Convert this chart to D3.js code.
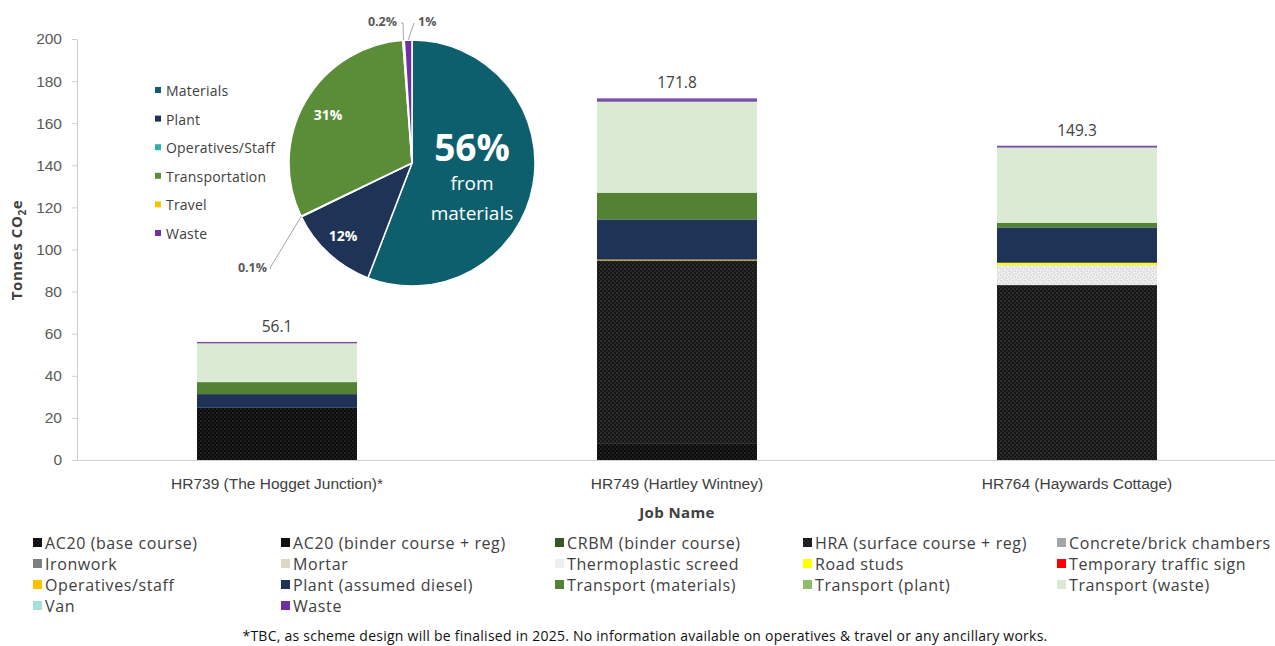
<!DOCTYPE html>
<html>
<head>
<meta charset="utf-8">
<script src="https://cdn.jsdelivr.net/npm/d3@7"></script>
<style>
  html, body { margin: 0; padding: 0; background: #fff; }
  svg { display: block; font-family: "Open Sans", "Noto Sans", sans-serif; }
</style>
</head>
<body>
<svg id="chart" width="1275" height="646"></svg>
<script>
// ---- Jobs (x categories) ----
const jobs = ["HR739 (The Hogget Junction)*", "HR749 (Hartley Wintney)", "HR764 (Haywards Cottage)"];

// ---- Emission sources, stacked bottom to top (tonnes CO2e per job) ----
const seriesNames = [
  "AC20 (base course)", "AC20 (binder course + reg)", "CRBM (binder course)",
  "HRA (surface course + reg)", "Concrete/brick chambers", "Ironwork", "Mortar",
  "Thermoplastic screed", "Road studs", "Temporary traffic sign", "Operatives/staff",
  "Plant (assumed diesel)", "Transport (materials)", "Transport (plant)",
  "Transport (waste)", "Van", "Waste"
];
const ac20Base        = [24.8,  8.0,  0];
const ac20Binder      = [0,     0,    0];
const crbmBinder      = [0,     0,    0];
const hraSurface      = [0,    86.8, 83.1];
const concreteBrick   = [0,     0,    0];
const ironwork        = [0,     0,    0];
const mortar          = [0,     0,    0];
const thermoScreed    = [0,     0,    9.5];
const roadStuds       = [0,     0,    1.1];
const tempSign        = [0,     0,    0];
const operatives      = [0,     0.4,  0];
const plantDiesel     = [6.5,  19.1, 16.8];
const transportMat    = [5.7,  12.7,  2.2];
const transportPlant  = [0,     0,    0];
const transportWaste  = [18.4, 43.2, 35.7];
const van             = [0,     0,    0];
const waste           = [0.7,   1.6,  0.9];

const seriesValues = [ac20Base, ac20Binder, crbmBinder, hraSurface, concreteBrick, ironwork,
  mortar, thermoScreed, roadStuds, tempSign, operatives, plantDiesel, transportMat,
  transportPlant, transportWaste, van, waste];

const yTicks = [0, 20, 40, 60, 80, 100, 120, 140, 160, 180, 200];

// ---- Overall split (pie) ----
const pieLabels = ["Materials", "Plant", "Operatives/Staff", "Transportation", "Travel", "Waste"];
const pieValues = [56, 12, 0.1, 31, 0.2, 1];

// ---- Fills ----
const seriesFill = [
  "url(#dotsA)", "url(#dotsB)", "#375623", "url(#dotsB)", "#a5a5a5", "#7f7f7f", "#ddd9c4",
  "url(#speckle)", "#ffff00", "#ff0000", "#ffc000", "#1f3356", "#548235", "#8fbd6d",
  "#dbead2", "#a7dfdb", "#7a4fa6"
];
const legendSwatch = [
  "url(#dotsA)", "#111111", "#375623", "url(#dotsB)", "#a5a5a5", "#7f7f7f", "#ddd9c4",
  "#eeeeee", "#ffff00", "#ff0000", "#ffc000", "#1f3356", "#548235", "#8fbd6d",
  "#dbead2", "#a7dfdb", "#7030a0"
];
const pieColors = ["#0d5f6e", "#1f3356", "#2bb3a3", "#5b8d38", "#ffc000", "#7030a0"];

const svg = d3.select("#chart");
const defs = svg.append("defs");

// fine dotted black fill used for asphalt layers
function dotPattern(id, base, dot, op) {
  const p = defs.append("pattern").attr("id", id).attr("patternUnits", "userSpaceOnUse")
    .attr("width", 4).attr("height", 4);
  p.append("rect").attr("width", 4).attr("height", 4).attr("fill", base);
  p.append("circle").attr("cx", 1).attr("cy", 1).attr("r", 0.6).attr("fill", dot).attr("opacity", op);
  p.append("circle").attr("cx", 3).attr("cy", 3).attr("r", 0.6).attr("fill", dot).attr("opacity", op * 0.7);
}
dotPattern("dotsA", "#0c0c0c", "#ffffff", 0.35);
dotPattern("dotsB", "#151515", "#ffffff", 0.45);
{
  const p = defs.append("pattern").attr("id", "speckle").attr("patternUnits", "userSpaceOnUse")
    .attr("width", 6).attr("height", 6);
  p.append("rect").attr("width", 6).attr("height", 6).attr("fill", "#efefef");
  [[1,1],[4,2],[2,4],[5,5]].forEach(([x, y]) =>
    p.append("circle").attr("cx", x).attr("cy", y).attr("r", 0.8).attr("fill", "#c8c8c8"));
}

// ---- Scales ----
const x = d3.scaleBand().domain(jobs).range([77, 1277]).paddingInner(0.6).paddingOuter(0.3);
const y = d3.scaleLinear().domain([0, 200]).range([460, 39]);

// ---- Axes ----
const yAxis = svg.append("g").attr("transform", "translate(77,0)")
  .call(d3.axisLeft(y).tickValues(yTicks).tickSize(5).tickPadding(10));
yAxis.select(".domain").attr("stroke", "#d0d0d0");
yAxis.selectAll(".tick line").attr("stroke", "#d0d0d0");
yAxis.selectAll(".tick text").attr("fill", "#595959").style("font-size", "15.5px");

const xAxis = svg.append("g").attr("transform", "translate(0,460)")
  .call(d3.axisBottom(x).tickSize(0).tickPadding(18));
xAxis.select(".domain").attr("stroke", "#d0d0d0");
xAxis.selectAll(".tick text").attr("fill", "#404040").style("font-size", "15.5px");

svg.append("text").attr("x", 677).attr("y", 518).attr("text-anchor", "middle")
  .attr("fill", "#404040").style("font-size", "15px").style("font-weight", "bold")
  .style("letter-spacing", "0.4px").text("Job Name");

const yTitle = svg.append("text").attr("transform", "translate(22,250) rotate(-90)")
  .attr("text-anchor", "middle").attr("fill", "#404040")
  .style("font-size", "15px").style("font-weight", "bold").style("letter-spacing", "0.6px");
yTitle.append("tspan").text("Tonnes CO");
yTitle.append("tspan").attr("dy", 4).style("font-size", "10px").text("2");
yTitle.append("tspan").attr("dy", -4).text("e");

// ---- Stacked bars ----
const table = jobs.map((job, j) => {
  const row = { job };
  seriesNames.forEach((s, i) => { row[s] = seriesValues[i][j]; });
  return row;
});
const stacked = d3.stack().keys(seriesNames)(table);

svg.append("g").selectAll("g").data(stacked).join("g")
  .attr("fill", (d, i) => seriesFill[i])
  .selectAll("rect").data(d => d.filter(p => p[1] - p[0] > 0)).join("rect")
  .attr("x", d => x(d.data.job))
  .attr("width", x.bandwidth())
  .attr("y", d => y(d[1]))
  .attr("height", d => y(d[0]) - y(d[1]));

// total labels
svg.append("g").selectAll("text").data(table).join("text")
  .attr("x", d => x(d.job) + x.bandwidth() / 2)
  .attr("y", d => y(d3.sum(seriesNames, s => d[s])) - 10)
  .attr("text-anchor", "middle").attr("fill", "#404040").style("font-size", "15.5px")
  .text(d => d3.sum(seriesNames, s => d[s]).toFixed(1));

// ---- Bottom legend ----
const legCols = [33, 281, 555, 803, 1057];
const legRows = [544, 565, 586, 607];
const leg = svg.append("g").selectAll("g").data(seriesNames).join("g")
  .attr("transform", (d, i) => `translate(${legCols[i % 5]},${legRows[Math.floor(i / 5)]})`);
leg.append("rect").attr("x", 0).attr("y", -6).attr("width", 9).attr("height", 9)
  .attr("fill", (d, i) => legendSwatch[i]);
leg.append("text").attr("x", 12).attr("y", 5).attr("fill", "#404040")
  .style("font-size", "16px").style("letter-spacing", "0.6px").text(d => d);

svg.append("text").attr("x", 645).attr("y", 641).attr("text-anchor", "middle")
  .attr("fill", "#111").style("font-size", "14px").style("letter-spacing", "0.25px")
  .text("*TBC, as scheme design will be finalised in 2025. No information available on operatives & travel or any ancillary works.");

// ---- Pie inset ----
const cx = 412, cy = 163, r = 123;
const pie = d3.pie().sort(null).value(d => d)(pieValues);
const arc = d3.arc().innerRadius(0).outerRadius(r);
const pg = svg.append("g").attr("transform", `translate(${cx},${cy})`);
pg.selectAll("path").data(pie).join("path")
  .attr("d", arc).attr("fill", (d, i) => pieColors[i])
  .attr("stroke", "#fff").attr("stroke-width", 1.5);

// in-slice labels
pg.append("text").attr("x", 60).attr("y", -2).attr("text-anchor", "middle").attr("fill", "#fff")
  .style("font-size", "37px").style("font-weight", "bold").text("56%");
pg.append("text").attr("x", 60).attr("y", 27).attr("text-anchor", "middle").attr("fill", "#fff")
  .style("font-size", "19px").text("from");
pg.append("text").attr("x", 60).attr("y", 57).attr("text-anchor", "middle").attr("fill", "#fff")
  .style("font-size", "19px").text("materials");
pg.append("text").attr("x", -84).attr("y", -43).attr("text-anchor", "middle").attr("fill", "#fff")
  .style("font-size", "14px").style("font-weight", "bold").text(Math.round(pieValues[3]) + "%");
pg.append("text").attr("x", -69).attr("y", 78).attr("text-anchor", "middle").attr("fill", "#fff")
  .style("font-size", "14px").style("font-weight", "bold").text(Math.round(pieValues[1]) + "%");

// outside labels with leader lines for the thin slices
function edgePoint(d) {
  const a = (d.startAngle + d.endAngle) / 2;
  return [r * Math.sin(a), -r * Math.cos(a)];
}
const outside = [
  { i: 2, lx: -142, ly: 105, tx: -145, ty: 109, anchor: "end" },
  { i: 4, lx: -9, ly: -140, tx: -15, ty: -137, anchor: "end" },
  { i: 5, lx: 2, ly: -140, tx: 6, ty: -137, anchor: "start" }
];
outside.forEach(o => {
  const [ex, ey] = edgePoint(pie[o.i]);
  pg.append("polyline")
    .attr("points", [[o.tx + (o.anchor === "end" ? 4 : -4), o.ty - 3], [o.lx, o.ly], [ex, ey]]
      .map(p => p.join(",")).join(" "))
    .attr("fill", "none").attr("stroke", "#a6a6a6").attr("stroke-width", 1);
  pg.append("text").attr("x", o.tx).attr("y", o.ty).attr("text-anchor", o.anchor)
    .attr("fill", "#595959").style("font-size", "12.5px").style("font-weight", "bold")
    .text(pieValues[o.i] + "%");
});

// pie legend
const pl = svg.append("g").selectAll("g").data(pieLabels).join("g")
  .attr("transform", (d, i) => `translate(155,${91 + i * 28.6})`);
pl.append("rect").attr("x", 0).attr("y", -4).attr("width", 6).attr("height", 6)
  .attr("fill", (d, i) => pieColors[i]);
pl.append("text").attr("x", 11).attr("y", 5).attr("fill", "#404040")
  .style("font-size", "14px").style("letter-spacing", "0.2px").text(d => d);
</script>
</body>
</html>
